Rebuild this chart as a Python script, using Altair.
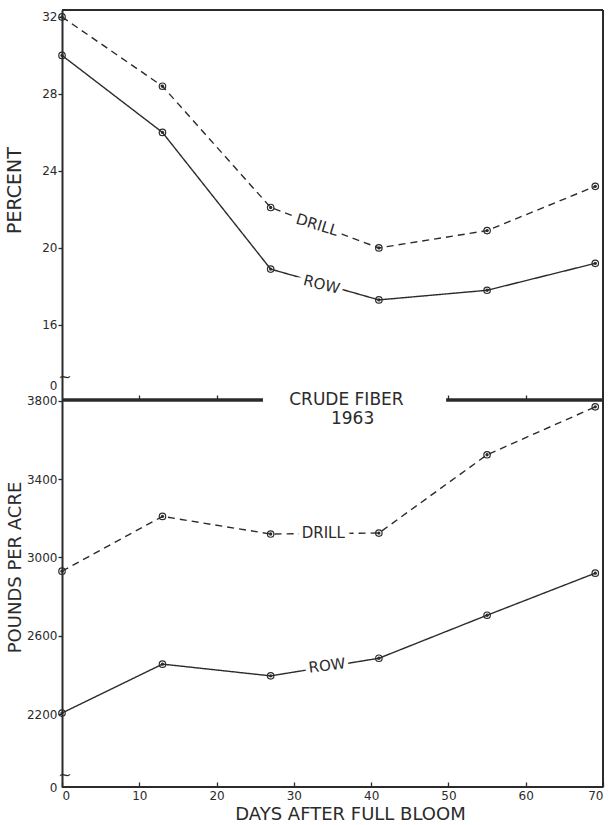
import altair as alt
import pandas as pd

# Sampling days after full bloom
days = [0, 13, 27, 41, 55, 69]

# Crude fiber, percent
percent_drill = [32.0, 28.4, 22.1, 20.0, 20.9, 23.2]
percent_row = [30.0, 26.0, 18.9, 17.3, 17.8, 19.2]

# Crude fiber, pounds per acre
pounds_drill = [2930, 3210, 3120, 3125, 3525, 3770]
pounds_row = [2205, 2455, 2395, 2485, 2705, 2920]

x_ticks = [0, 10, 20, 30, 40, 50, 60, 70]
divider_ticks = [10, 20, 50, 60]
percent_ticks = [16, 20, 24, 28, 32]
pound_ticks = [2200, 2600, 3000, 3400, 3800]

# Broken value axes: the lowest value stands for zero
PCT_MIN, PCT_MAX = 12.1, 32.36
PCT_ZERO = 12.85
PCT_BREAK = 13.3
LB_MIN, LB_MAX = 1827, 3805
LB_BREAK = 1890

# Heavy rule between the two panels, interrupted by the caption
divider_start = [0, 49.7]
divider_end = [26, 70]

# In-line series labels
top_label_text = ["DRILL", "ROW"]
top_label_x = [33.0, 33.6]
top_label_y = [21.2, 18.1]
top_label_angle = [17, 14]
bottom_label_text = ["DRILL", "ROW"]
bottom_label_x = [33.8, 34.3]
bottom_label_y = [3123, 2448]
bottom_label_angle = [0, 353]

INK = "#2b2b2b"
FONT = "DejaVu Sans"
WIDTH = 541


def series_frame(drill, row):
    return pd.DataFrame({
        "day": days * 2,
        "value": drill + row,
        "series": ["DRILL"] * len(days) + ["ROW"] * len(days),
    })


def data_layers(df, labels, y_scale):
    x = alt.X("day:Q", scale=alt.Scale(domain=[0, 70], nice=False, zero=False))
    y = alt.Y("value:Q", scale=y_scale)
    dash = alt.StrokeDash(
        "series:N",
        scale=alt.Scale(domain=["DRILL", "ROW"], range=[[7, 5], [1, 0]]),
        legend=None,
    )
    base = alt.Chart(df)
    lines = base.mark_line(color=INK, strokeWidth=1.4).encode(x=x, y=y, strokeDash=dash, detail="series:N")
    rings = base.mark_point(color=INK, filled=False, size=42, strokeWidth=1.2, opacity=1).encode(x=x, y=y)
    dots = base.mark_point(color=INK, filled=True, size=11, opacity=1).encode(x=x, y=y)

    lab = alt.Chart(labels)
    lx = alt.X("x:Q")
    ly = alt.Y("y:Q")
    ang = alt.Angle("angle:Q", scale=None)
    halo = lab.mark_text(font=FONT, fontSize=15, fill="white", stroke="white", strokeWidth=9).encode(
        x=lx, y=ly, angle=ang, text="text:N")
    text = lab.mark_text(font=FONT, fontSize=15, fill=INK).encode(
        x=lx, y=ly, angle=ang, text="text:N")
    return [lines, halo, text, rings, dots]


def label_frame(text, x, y, angle):
    return pd.DataFrame({"text": text, "x": x, "y": y, "angle": angle})


axis_common = dict(
    labelFont=FONT, labelFontSize=12, labelColor=INK,
    titleFont=FONT, titleFontWeight="normal", titleColor=INK,
    tickColor=INK, domainColor=INK, grid=False,
)

# ---- upper panel: percent ----
pct_scale = alt.Scale(domain=[PCT_MIN, PCT_MAX], nice=False, zero=False)
pct_df = series_frame(percent_drill, percent_row)
pct_labels = label_frame(top_label_text, top_label_x, top_label_y, top_label_angle)

pct_axis = alt.Axis(
    values=[PCT_ZERO] + percent_ticks,
    labelExpr="datum.value < 14 ? '0' : datum.label",
    tickOpacity={"condition": {"test": "datum.value < 14", "value": 0}, "value": 1},
    format="d", title="PERCENT", titleFontSize=19, titleX=-38, titleY=180,
    tickSize=4, tickWidth=1.3, labelPadding=1, domainWidth=2, **axis_common,
)
top_x_axis = alt.Axis(
    values=divider_ticks, labels=False, title=None, domain=False,
    tickSize=5, tickWidth=1.3, offset=-5, **axis_common,
)

top_frame_x = alt.Chart(pct_df).mark_point(opacity=0).encode(
    x=alt.X("day:Q", scale=alt.Scale(domain=[0, 70], nice=False, zero=False), axis=top_x_axis),
    y=alt.Y("value:Q", scale=pct_scale, axis=pct_axis),
)
top_border = alt.Chart().mark_rule(color=INK, strokeWidth=2.2).encode(
    x=alt.datum(0), x2=alt.datum(70), y=alt.datum(PCT_MAX))
top_right = alt.Chart().mark_rule(color=INK, strokeWidth=2).encode(x=alt.datum(70))
divider = alt.Chart(pd.DataFrame({"start": divider_start, "end": divider_end})).mark_rule(
    color=INK, strokeWidth=3.5).encode(x="start:Q", x2="end:Q", y=alt.datum(PCT_MIN))
top_break = alt.Chart().mark_text(text="~", font=FONT, fontSize=16, color=INK, dx=3).encode(
    x=alt.datum(0), y=alt.datum(PCT_BREAK))

top = alt.layer(
    top_frame_x, top_border, top_right, divider, top_break,
    *data_layers(pct_df, pct_labels, pct_scale),
).properties(width=WIDTH, height=390)

# ---- lower panel: pounds per acre ----
lb_scale = alt.Scale(domain=[LB_MIN, LB_MAX], nice=False, zero=False)
lb_df = series_frame(pounds_drill, pounds_row)
lb_labels = label_frame(bottom_label_text, bottom_label_x, bottom_label_y, bottom_label_angle)

lb_axis = alt.Axis(
    values=[LB_MIN] + pound_ticks,
    labelExpr="datum.value < 2000 ? '0' : datum.label",
    tickOpacity={"condition": {"test": "datum.value < 2000", "value": 0}, "value": 1},
    format="d", title="POUNDS  PER  ACRE", titleFontSize=18, titleX=-38, titleY=167,
    tickSize=4, tickWidth=1.3, labelPadding=1, domainWidth=2, **axis_common,
)
bottom_x_axis = alt.Axis(
    values=x_ticks, format="d", title="DAYS  AFTER  FULL  BLOOM", titleFontSize=18,
    titleX=288, titlePadding=4, domain=False, tickSize=5, tickWidth=1.3, offset=-5,
    labelPadding=3, **axis_common,
)

bottom_frame_x = alt.Chart(lb_df).mark_point(opacity=0).encode(
    x=alt.X("day:Q", scale=alt.Scale(domain=[0, 70], nice=False, zero=False), axis=bottom_x_axis),
    y=alt.Y("value:Q", scale=lb_scale, axis=lb_axis),
)
bottom_base = alt.Chart().mark_rule(color=INK, strokeWidth=2).encode(y=alt.datum(LB_MIN))
bottom_right = alt.Chart().mark_rule(color=INK, strokeWidth=2).encode(x=alt.datum(70))
bottom_break = alt.Chart().mark_text(text="~", font=FONT, fontSize=16, color=INK, dx=3).encode(
    x=alt.datum(0), y=alt.datum(LB_BREAK))
caption = alt.Chart().mark_text(text="CRUDE  FIBER", font=FONT, fontSize=17, color=INK).encode(
    x=alt.datum(36.8), y=alt.datum(LB_MAX))
caption_year = alt.Chart().mark_text(text="1963", font=FONT, fontSize=17, color=INK, dy=19).encode(
    x=alt.datum(37.6), y=alt.datum(LB_MAX))

bottom = alt.layer(
    bottom_frame_x, bottom_base, bottom_right, bottom_break, caption, caption_year,
    *data_layers(lb_df, lb_labels, lb_scale),
).properties(width=WIDTH, height=387)

chart = alt.vconcat(top, bottom, spacing=0, bounds="flush").properties(
    padding={"left": 5, "top": 8, "right": 5, "bottom": 5},
    background="white",
).configure_view(stroke=None)

chart.save("out.html", embed_options={"renderer": "svg", "actions": False})
